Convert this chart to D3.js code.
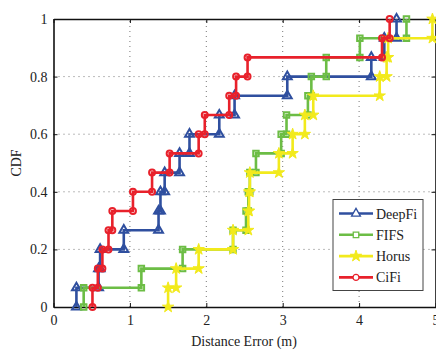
<!DOCTYPE html>
<html>
<head>
<meta charset="utf-8">
<script src="https://cdn.jsdelivr.net/npm/d3@7"></script>
<style>
  body { margin: 0; background: #fff; }
  text { font-family: "Liberation Serif", "Times New Roman", serif; fill: #222; }
</style>
</head>
<body>
<div id="chart"></div>
<script>
// distance errors (m), one value per test location
const deepfi = [0.30, 0.59, 0.61, 0.92, 1.375, 1.40, 1.455, 1.65, 1.78, 2.17, 2.37, 3.06, 4.16, 4.33, 4.49];
const fifs = [0.395, 1.15, 1.69, 2.35, 2.52, 2.55, 2.57, 2.65, 2.98, 3.05, 3.33, 3.375, 3.57, 4.01, 4.62];
const horus = [1.50, 1.605, 1.90, 2.35, 2.55, 2.56, 2.57, 2.95, 3.13, 3.29, 3.40, 4.27, 4.36, 4.38, 4.96];
const cifi = [0.51, 0.58, 0.64, 0.72, 0.77, 1.04, 1.29, 1.52, 1.90, 1.98, 2.30, 2.39, 2.54, 4.30, 4.40];

const seriesNames = ["DeepFi", "FIFS", "Horus", "CiFi"];
const xTicks = [0, 1, 2, 3, 4, 5];
const yTicks = [0, 0.2, 0.4, 0.6, 0.8, 1];

const width = 436,
  height = 352;
const margin = { top: 19, right: 0.5, bottom: 45, left: 53.5 };

const svg = d3
  .select("#chart")
  .append("svg")
  .attr("width", width)
  .attr("height", height);

const x = d3.scaleLinear().domain([0, 5]).range([margin.left, width - margin.right]);
const y = d3.scaleLinear().domain([0, 1]).range([height - margin.bottom, margin.top]);

// dotted grid
const grid = svg.append("g");
grid
  .selectAll("line.gx")
  .data(xTicks.slice(1, -1))
  .join("line")
  .attr("x1", (d) => x(d))
  .attr("x2", (d) => x(d))
  .attr("y1", y(0))
  .attr("y2", y(1));
grid
  .selectAll("line.gy")
  .data(yTicks.slice(1, -1))
  .join("line")
  .attr("x1", x(0))
  .attr("x2", x(5))
  .attr("y1", (d) => y(d))
  .attr("y2", (d) => y(d));
grid
  .selectAll("line")
  .attr("stroke", "#777")
  .attr("stroke-width", 1)
  .attr("stroke-dasharray", "1,4");

// axes with inward ticks
const fmtY = (d) => (d === 0 || d === 1 ? d3.format("d")(d) : d3.format(".1f")(d));
svg
  .append("g")
  .attr("transform", `translate(0,${y(0)})`)
  .call(
    d3.axisBottom(x).tickValues(xTicks).tickSizeInner(-4).tickSizeOuter(0).tickPadding(8).tickFormat(d3.format("d"))
  );
svg
  .append("g")
  .attr("transform", `translate(0,${y(1)})`)
  .call(d3.axisTop(x).tickValues(xTicks).tickSizeInner(-4).tickSizeOuter(0).tickFormat(""));
svg
  .append("g")
  .attr("transform", `translate(${x(0)},0)`)
  .call(d3.axisLeft(y).tickValues(yTicks).tickSizeInner(-4).tickSizeOuter(0).tickPadding(6).tickFormat(fmtY));
svg
  .append("g")
  .attr("transform", `translate(${x(5)},0)`)
  .call(d3.axisRight(y).tickValues(yTicks).tickSizeInner(-4).tickSizeOuter(0).tickFormat(""));

svg.selectAll(".domain").attr("stroke", "#111").attr("stroke-width", 1.6);
svg.selectAll(".tick line").attr("stroke", "#111").attr("stroke-width", 1);
svg
  .selectAll(".tick text")
  .style("font-family", '"Liberation Serif", serif')
  .style("font-size", "14px")
  .attr("fill", "#222");

// axis titles
svg
  .append("text")
  .attr("x", 244)
  .attr("y", 346)
  .attr("text-anchor", "middle")
  .style("font-size", "14px")
  .text("Distance Error (m)");
svg
  .append("text")
  .attr("transform", `translate(21,${(y(0) + y(1)) / 2}) rotate(-90)`)
  .attr("text-anchor", "middle")
  .style("font-size", "14px")
  .text("CDF");

// series styling
const styles = {
  DeepFi: { color: "#2f4f9f", symbol: d3.symbolTriangle, size: 34, filled: false },
  FIFS: { color: "#6cbd45", symbol: d3.symbolSquare, size: 30, filled: false },
  Horus: { color: "#f2ea1c", symbol: d3.symbolStar, size: 40, filled: true },
  CiFi: { color: "#e8212b", symbol: d3.symbolCircle, size: 28, filled: false },
};
const allData = [deepfi, fifs, horus, cifi];

// empirical cdf stairs: a vertex before and after every step
const stairs = (values) => {
  const s = values.slice().sort(d3.ascending);
  const n = s.length;
  const pts = [];
  s.forEach((v, i) => {
    pts.push([v, i / n]);
    pts.push([v, (i + 1) / n]);
  });
  return pts;
};

const line = d3
  .line()
  .x((d) => x(d[0]))
  .y((d) => y(d[1]));

seriesNames.forEach((name, i) => {
  const st = styles[name];
  const pts = stairs(allData[i]);
  const g = svg.append("g").attr("class", "series");
  g.append("path")
    .attr("d", line(pts))
    .attr("fill", "none")
    .attr("stroke", st.color)
    .attr("stroke-width", 2.6)
    .attr("stroke-linejoin", "miter");
  g.selectAll("path.marker")
    .data(pts)
    .join("path")
    .attr("class", "marker")
    .attr("transform", (d) => `translate(${x(d[0])},${y(d[1])})`)
    .attr("d", d3.symbol().type(st.symbol).size(st.size))
    .attr("fill", st.filled ? st.color : "none")
    .attr("stroke", st.color)
    .attr("stroke-width", st.filled ? 1 : 2);
});

// legend
const legend = svg.append("g").attr("transform", "translate(333,199.5)");
legend
  .append("rect")
  .attr("width", 90)
  .attr("height", 91)
  .attr("fill", "#fff")
  .attr("stroke", "#444")
  .attr("stroke-width", 1);
seriesNames.forEach((name, i) => {
  const st = styles[name];
  const row = legend.append("g").attr("transform", `translate(0,${14 + i * 21.3})`);
  row
    .append("line")
    .attr("x1", 6)
    .attr("x2", 40)
    .attr("stroke", st.color)
    .attr("stroke-width", 2.6);
  row
    .append("path")
    .attr("transform", "translate(23,0)")
    .attr("d", d3.symbol().type(st.symbol).size(st.size))
    .attr("fill", st.filled ? st.color : "#fff")
    .attr("stroke", st.color)
    .attr("stroke-width", st.filled ? 1 : 1.3);
  row
    .append("text")
    .attr("x", 43)
    .attr("y", 5)
    .style("font-size", "14px")
    .text(name);
});
</script>
</body>
</html>
